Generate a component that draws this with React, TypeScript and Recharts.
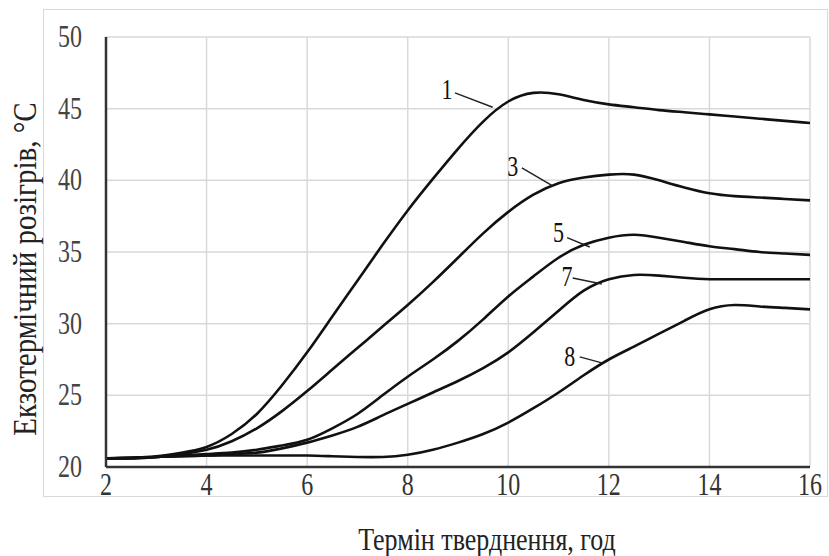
import React from 'react';
import { LineChart, Line, XAxis, YAxis, CartesianGrid, ReferenceLine, ReferenceDot, Label } from 'recharts';

const hours = [2, 2.5, 3, 3.5, 4, 4.5, 5, 5.5, 6, 6.5, 7, 7.5, 8, 8.5, 9, 9.5, 10, 10.5, 11, 11.5, 12, 12.5, 13, 13.5, 14, 14.5, 15, 15.5, 16];
const curve1 = [20.6, 20.65, 20.75, 21.0, 21.4, 22.3, 23.7, 25.7, 28.0, 30.5, 33.0, 35.5, 37.9, 40.1, 42.2, 44.1, 45.5, 46.1, 46.0, 45.6, 45.3, 45.1, 44.9, 44.75, 44.6, 44.45, 44.3, 44.15, 44.0];
const curve3 = [20.6, 20.65, 20.7, 20.9, 21.2, 21.8, 22.7, 23.9, 25.3, 26.8, 28.3, 29.8, 31.3, 32.9, 34.6, 36.3, 37.8, 39.0, 39.8, 40.2, 40.4, 40.4, 40.0, 39.5, 39.1, 38.9, 38.8, 38.7, 38.6];
const curve5 = [20.6, 20.6, 20.7, 20.8, 20.9, 21.0, 21.2, 21.5, 21.9, 22.7, 23.7, 25.0, 26.3, 27.5, 28.8, 30.3, 31.9, 33.3, 34.6, 35.5, 36.0, 36.2, 36.0, 35.7, 35.4, 35.2, 35.0, 34.9, 34.8];
const curve7 = [20.6, 20.6, 20.7, 20.75, 20.8, 20.9, 21.0, 21.3, 21.7, 22.2, 22.8, 23.6, 24.4, 25.2, 26.0, 26.9, 28.0, 29.4, 30.9, 32.3, 33.1, 33.4, 33.35, 33.2, 33.1, 33.1, 33.1, 33.1, 33.1];
const curve8 = [20.6, 20.65, 20.7, 20.75, 20.8, 20.8, 20.8, 20.8, 20.8, 20.75, 20.7, 20.7, 20.85, 21.2, 21.7, 22.3, 23.1, 24.1, 25.2, 26.4, 27.5, 28.4, 29.3, 30.2, 31.0, 31.3, 31.2, 31.1, 31.0];

const xTicks = [2, 4, 6, 8, 10, 12, 14, 16];
const yTicks = [20, 25, 30, 35, 40, 45, 50];

const xTitle = 'Термін тверднення, год';
const yTitle = 'Екзотермічний розігрів, °С';

// curve annotations: name, text anchor point, leader line start and end (data units)
const labelNames = ['1', '3', '5', '7', '8'];
const labelAt = [
  { x: 8.78, y: 46.3 },
  { x: 10.09, y: 40.9 },
  { x: 11.0, y: 36.3 },
  { x: 11.17, y: 33.26 },
  { x: 11.22, y: 27.68 },
];
const leaderFrom = [
  { x: 8.94, y: 46.1 },
  { x: 10.27, y: 40.87 },
  { x: 11.17, y: 36.0 },
  { x: 11.28, y: 33.19 },
  { x: 11.42, y: 27.68 },
];
const leaderTo = [
  { x: 9.69, y: 45.1 },
  { x: 10.89, y: 39.6 },
  { x: 11.62, y: 35.35 },
  { x: 11.86, y: 32.77 },
  { x: 11.86, y: 27.26 },
];

const data = hours.map((h, i) => ({
  h,
  c1: curve1[i],
  c3: curve3[i],
  c5: curve5[i],
  c7: curve7[i],
  c8: curve8[i],
}));

const FONT = '"Liberation Serif", "Times New Roman", serif';

const XTick = (props: any) => {
  const { x, y, payload } = props;
  return (
    <text
      transform={`translate(${x},${y + 28}) scale(1,1.3)`}
      textAnchor="middle"
      fontFamily={FONT}
      fontSize={24}
      fill="#333"
    >
      {payload.value}
    </text>
  );
};

const YTick = (props: any) => {
  const { x, y, payload } = props;
  return (
    <text
      transform={`translate(${x},${y + 10}) scale(1,1.3)`}
      textAnchor="end"
      fontFamily={FONT}
      fontSize={24}
      fill="#444"
    >
      {payload.value}
    </text>
  );
};

const DotLabel = (text: string) => (props: any) => {
  const { cx, cy } = props;
  return (
    <text
      transform={`translate(${cx},${cy + 9}) scale(1,1.3)`}
      textAnchor="middle"
      fontFamily={FONT}
      fontSize={22}
      fill="#111"
    >
      {text}
    </text>
  );
};

const series = ['c1', 'c3', 'c5', 'c7', 'c8'];

export default function App() {
  return (
    <div style={{ position: 'absolute', left: 0, top: 0, width: 829, height: 556, background: '#fff' }}>
      <div
        style={{
          position: 'absolute',
          left: 43,
          top: 9,
          width: 785,
          height: 488,
          border: '1px solid #d9d9d9',
          boxSizing: 'border-box',
        }}
      />
      <div style={{ position: 'absolute', left: 0, top: 0 }}>
        <LineChart
          width={829}
          height={556}
          data={data}
          margin={{ top: 37, right: 19, bottom: 49, left: 40 }}
        >
          <CartesianGrid stroke="#d9d9d9" strokeWidth={1.5} />
          <XAxis
            dataKey="h"
            type="number"
            domain={[2, 16]}
            ticks={xTicks}
            height={40}
            tickLine={false}
            tickSize={0}
            tickMargin={0}
            axisLine={{ stroke: '#333', strokeWidth: 2.5 }}
            tick={<XTick />}
          >
            <Label
              content={() => (
                <text
                  transform="translate(487,550) scale(1,1.2)"
                  textAnchor="middle"
                  fontFamily={FONT}
                  fontSize={26}
                  fill="#222"
                >
                  {xTitle}
                </text>
              )}
            />
          </XAxis>
          <YAxis
            type="number"
            domain={[20, 50]}
            ticks={yTicks}
            width={66}
            tickLine={false}
            tickSize={0}
            tickMargin={24}
            axisLine={{ stroke: '#333', strokeWidth: 2.5 }}
            tick={<YTick />}
          >
            <Label
              content={() => (
                <text
                  transform="translate(36,269) rotate(-90) scale(1,1.15)"
                  textAnchor="middle"
                  fontFamily={FONT}
                  fontSize={29}
                  fill="#222"
                >
                  {yTitle}
                </text>
              )}
            />
          </YAxis>
          {series.map((k) => (
            <Line
              key={k}
              dataKey={k}
              type="natural"
              stroke="#111"
              strokeWidth={2.6}
              dot={false}
              activeDot={false}
              isAnimationActive={false}
            />
          ))}
          {labelNames.map((n, i) => (
            <ReferenceLine
              key={'l' + n}
              segment={[leaderFrom[i], leaderTo[i]]}
              stroke="#222"
              strokeWidth={1.4}
            />
          ))}
          {labelNames.map((n, i) => (
            <ReferenceDot
              key={'d' + n}
              x={labelAt[i].x}
              y={labelAt[i].y}
              r={0}
              shape={DotLabel(n)}
            />
          ))}
        </LineChart>
      </div>
    </div>
  );
}
